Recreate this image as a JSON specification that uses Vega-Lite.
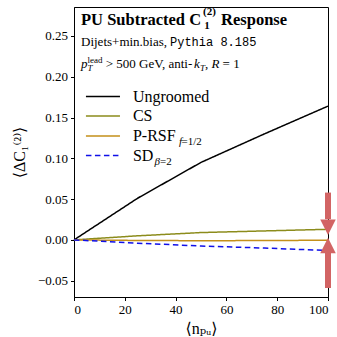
{
  "$schema": "https://vega.github.io/schema/vega-lite/v6.json",
  "width": 254,
  "height": 290,
  "autosize": {"type": "none"},
  "padding": {"left": 74, "top": 7, "right": 9, "bottom": 40},
  "background": "white",
  "config": {
    "view": {"stroke": "black", "strokeWidth": 1},
    "font": "Liberation Serif, Times New Roman, DejaVu Serif, serif",
    "axis": {
      "domainColor": "black", "tickColor": "black", "labelColor": "black", "titleColor": "black",
      "labelFont": "Liberation Serif, Times New Roman, DejaVu Serif, serif", "labelFontSize": 13,
      "titleFont": "Liberation Serif, Times New Roman, DejaVu Serif, serif",
      "titleFontSize": 16, "titleFontWeight": "normal", "tickSize": 3.5, "grid": false, "labelPadding": 3
    },
    "text": {"font": "Liberation Serif, Times New Roman, DejaVu Serif, serif"}
  },
  "datasets": {
    "series": [
      {"x": 0, "y": 0, "s": "Ungroomed"}, {"x": 25, "y": 0.051, "s": "Ungroomed"}, {"x": 50, "y": 0.095, "s": "Ungroomed"}, {"x": 75, "y": 0.130, "s": "Ungroomed"}, {"x": 100, "y": 0.164, "s": "Ungroomed"},
      {"x": 0, "y": 0, "s": "CS"}, {"x": 25, "y": 0.005, "s": "CS"}, {"x": 50, "y": 0.009, "s": "CS"}, {"x": 75, "y": 0.011, "s": "CS"}, {"x": 100, "y": 0.013, "s": "CS"},
      {"x": 0, "y": 0, "s": "P-RSF"}, {"x": 25, "y": -0.0007, "s": "P-RSF"}, {"x": 50, "y": -0.001, "s": "P-RSF"}, {"x": 75, "y": -0.0008, "s": "P-RSF"}, {"x": 100, "y": -0.0004, "s": "P-RSF"},
      {"x": 0, "y": 0, "s": "SD"}, {"x": 25, "y": -0.004, "s": "SD"}, {"x": 50, "y": -0.0075, "s": "SD"}, {"x": 75, "y": -0.010, "s": "SD"}, {"x": 100, "y": -0.013, "s": "SD"}
    ],
    "leg": [
      {"s": "Ungroomed", "x1": 4.7, "x2": 18.1, "y": 0.1759, "ty": 0.1691},
      {"s": "CS", "x1": 4.7, "x2": 18.1, "y": 0.1520, "ty": 0.1452},
      {"s": "P-RSF", "x1": 4.7, "x2": 18.1, "y": 0.1275, "ty": 0.1207},
      {"s": "SD", "x1": 4.7, "x2": 18.1, "y": 0.1034, "ty": 0.0966}
    ],
    "ann": [
      {"g": "tb", "t": "PU Subtracted C", "x": 2.76, "y": 0.2629},
      {"g": "tb", "t": "Response", "x": 57.9, "y": 0.2629},
      {"g": "ts", "t": "(2)", "x": 50.8, "y": 0.2757},
      {"g": "ts", "t": "1", "x": 51.3, "y": 0.2586},
      {"g": "n13", "t": "Dijets+min.bias,", "x": 2.76, "y": 0.2377},
      {"g": "mono", "t": "Pythia 8.185", "x": 37.8, "y": 0.2377},
      {"g": "i13", "t": "p", "x": 2.76, "y": 0.2108},
      {"g": "n9", "t": "lead", "x": 5.31, "y": 0.2174},
      {"g": "i9", "t": "T", "x": 5.31, "y": 0.2066},
      {"g": "n13", "t": "> 500 GeV, anti-", "x": 12.5, "y": 0.2108},
      {"g": "i13", "t": "k", "x": 47.24, "y": 0.2108},
      {"g": "i9", "t": "T", "x": 49.6, "y": 0.2071},
      {"g": "n13", "t": ",", "x": 51.57, "y": 0.2108},
      {"g": "i13", "t": "R", "x": 54.13, "y": 0.2108},
      {"g": "n13", "t": "= 1", "x": 58.5, "y": 0.2108},
      {"g": "i11", "t": "f", "x": 41.3, "y": 0.1164},
      {"g": "n11", "t": "=1/2", "x": 42.3, "y": 0.1164},
      {"g": "i11", "t": "β", "x": 31.7, "y": 0.0923},
      {"g": "n11", "t": "=2", "x": 33.9, "y": 0.0923}
    ],
    "bars": [
      {"x": 100, "y1": 0.058, "y2": 0.0254},
      {"x": 100, "y1": -0.0147, "y2": -0.059}
    ],
    "heads": [
      {"x": 100, "y": 0.0154, "dir": "down"},
      {"x": 100, "y": -0.0070, "dir": "up"}
    ]
  },
  "layer": [
    {
      "data": {"name": "series"},
      "mark": {"type": "line", "strokeWidth": 1.5},
      "encoding": {
        "x": {"field": "x", "type": "quantitative", "scale": {"domain": [0, 100], "nice": false},
              "axis": {"values": [0, 20, 40, 60, 80, 100], "title": "⟨nₚᵤ⟩", "titlePadding": 4}},
        "y": {"field": "y", "type": "quantitative", "scale": {"domain": [-0.07, 0.2855], "nice": false, "zero": false},
              "axis": {"values": [-0.05, 0, 0.05, 0.1, 0.15, 0.2, 0.25], "format": ".2f", "title": "⟨ΔC₁⁽²⁾⟩", "titlePadding": 10}},
        "color": {"field": "s", "type": "nominal", "legend": null,
                  "scale": {"domain": ["Ungroomed", "CS", "P-RSF", "SD"], "range": ["#000000", "#8c8c1c", "#c4901a", "#1010e8"]}},
        "strokeDash": {"field": "s", "type": "nominal", "legend": null,
                  "scale": {"domain": ["Ungroomed", "CS", "P-RSF", "SD"], "range": [[1, 0], [1, 0], [1, 0], [5.5, 3.5]]}},
        "order": {"field": "x", "type": "quantitative"}
      }
    },
    {
      "data": {"name": "leg"},
      "mark": {"type": "rule", "strokeWidth": 1.5},
      "encoding": {
        "x": {"field": "x1", "type": "quantitative"},
        "x2": {"field": "x2"},
        "y": {"field": "y", "type": "quantitative"},
        "color": {"field": "s", "type": "nominal", "legend": null},
        "strokeDash": {"field": "s", "type": "nominal", "legend": null}
      }
    },
    {
      "data": {"name": "leg"},
      "mark": {"type": "text", "fontSize": 16, "align": "left", "baseline": "alphabetic", "color": "black"},
      "encoding": {
        "x": {"datum": 23.2, "type": "quantitative"},
        "y": {"field": "ty", "type": "quantitative"},
        "text": {"field": "s"}
      }
    },
    {
      "data": {"name": "ann"},
      "transform": [{"filter": "datum.g === 'tb'"}],
      "mark": {"type": "text", "fontSize": 16.5, "fontWeight": "bold", "align": "left", "baseline": "alphabetic", "color": "black"},
      "encoding": {"x": {"field": "x", "type": "quantitative"}, "y": {"field": "y", "type": "quantitative"}, "text": {"field": "t"}}
    },
    {
      "data": {"name": "ann"},
      "transform": [{"filter": "datum.g === 'ts'"}],
      "mark": {"type": "text", "fontSize": 11, "fontWeight": "bold", "align": "left", "baseline": "alphabetic", "color": "black"},
      "encoding": {"x": {"field": "x", "type": "quantitative"}, "y": {"field": "y", "type": "quantitative"}, "text": {"field": "t"}}
    },
    {
      "data": {"name": "ann"},
      "transform": [{"filter": "datum.g === 'n13'"}],
      "mark": {"type": "text", "fontSize": 13, "align": "left", "baseline": "alphabetic", "color": "black"},
      "encoding": {"x": {"field": "x", "type": "quantitative"}, "y": {"field": "y", "type": "quantitative"}, "text": {"field": "t"}}
    },
    {
      "data": {"name": "ann"},
      "transform": [{"filter": "datum.g === 'i13'"}],
      "mark": {"type": "text", "fontSize": 13, "fontStyle": "italic", "align": "left", "baseline": "alphabetic", "color": "black"},
      "encoding": {"x": {"field": "x", "type": "quantitative"}, "y": {"field": "y", "type": "quantitative"}, "text": {"field": "t"}}
    },
    {
      "data": {"name": "ann"},
      "transform": [{"filter": "datum.g === 'mono'"}],
      "mark": {"type": "text", "font": "Liberation Mono, DejaVu Sans Mono, monospace", "fontSize": 12, "align": "left", "baseline": "alphabetic", "color": "black"},
      "encoding": {"x": {"field": "x", "type": "quantitative"}, "y": {"field": "y", "type": "quantitative"}, "text": {"field": "t"}}
    },
    {
      "data": {"name": "ann"},
      "transform": [{"filter": "datum.g === 'n9'"}],
      "mark": {"type": "text", "fontSize": 9, "align": "left", "baseline": "alphabetic", "color": "black"},
      "encoding": {"x": {"field": "x", "type": "quantitative"}, "y": {"field": "y", "type": "quantitative"}, "text": {"field": "t"}}
    },
    {
      "data": {"name": "ann"},
      "transform": [{"filter": "datum.g === 'i9'"}],
      "mark": {"type": "text", "fontSize": 9, "fontStyle": "italic", "align": "left", "baseline": "alphabetic", "color": "black"},
      "encoding": {"x": {"field": "x", "type": "quantitative"}, "y": {"field": "y", "type": "quantitative"}, "text": {"field": "t"}}
    },
    {
      "data": {"name": "ann"},
      "transform": [{"filter": "datum.g === 'i11'"}],
      "mark": {"type": "text", "fontSize": 11, "fontStyle": "italic", "align": "left", "baseline": "alphabetic", "color": "black"},
      "encoding": {"x": {"field": "x", "type": "quantitative"}, "y": {"field": "y", "type": "quantitative"}, "text": {"field": "t"}}
    },
    {
      "data": {"name": "ann"},
      "transform": [{"filter": "datum.g === 'n11'"}],
      "mark": {"type": "text", "fontSize": 11, "align": "left", "baseline": "alphabetic", "color": "black"},
      "encoding": {"x": {"field": "x", "type": "quantitative"}, "y": {"field": "y", "type": "quantitative"}, "text": {"field": "t"}}
    },
    {
      "data": {"name": "bars"},
      "mark": {"type": "rule", "strokeWidth": 6, "color": "#d26464"},
      "encoding": {"x": {"field": "x", "type": "quantitative"}, "y": {"field": "y1", "type": "quantitative"}, "y2": {"field": "y2"}}
    },
    {
      "data": {"name": "heads"},
      "mark": {"type": "point", "filled": true, "opacity": 1, "size": 240, "color": "#d26464", "strokeWidth": 0},
      "encoding": {
        "x": {"field": "x", "type": "quantitative"},
        "y": {"field": "y", "type": "quantitative"},
        "shape": {"field": "dir", "type": "nominal", "legend": null,
                  "scale": {"domain": ["down", "up"], "range": ["M-1,-1L1,-1L0,1Z", "M-1,1L1,1L0,-1Z"]}}
      }
    }
  ]
}
